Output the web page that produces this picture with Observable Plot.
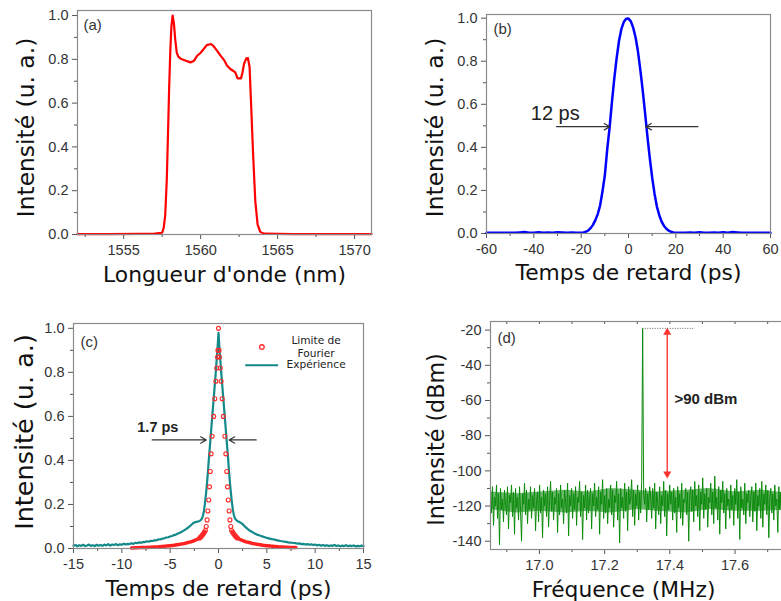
<!DOCTYPE html>
<html><head><meta charset="utf-8">
<script src="https://cdn.jsdelivr.net/npm/d3@7"></script>
<script src="https://cdn.jsdelivr.net/npm/@observablehq/plot@0.6"></script>
<style>
html,body{margin:0;padding:0;background:#fff;overflow:hidden;}
#root{position:relative;width:781px;height:601px;overflow:hidden;background:#fff;}
.panel{position:absolute;}
.panel svg{display:block;overflow:visible;max-width:none !important;}
</style></head><body><div id="root"></div>
<script>
// ---------- (a) spectrum ----------
const specWavelength = [1552.0,1554.0,1556.0,1557.0,1557.5,1557.6,1557.7,1557.8,1557.88,1557.95,1558.03,1558.1,1558.18,1558.27,1558.35,1558.45,1558.55,1558.7,1559.0,1559.33,1559.55,1559.76,1560.0,1560.2,1560.4,1560.67,1560.84,1561.06,1561.28,1561.54,1561.71,1561.93,1562.1,1562.25,1562.4,1562.62,1562.72,1562.82,1562.97,1563.07,1563.18,1563.27,1563.4,1563.55,1563.7,1563.87,1564.1,1566.0,1571.1];
const specIntensity = [0.002,0.002,0.003,0.004,0.008,0.03,0.09,0.25,0.46,0.66,0.84,0.95,1.0,0.96,0.89,0.83,0.812,0.803,0.795,0.786,0.792,0.815,0.83,0.847,0.865,0.87,0.86,0.84,0.818,0.795,0.772,0.756,0.748,0.74,0.713,0.713,0.74,0.78,0.805,0.806,0.765,0.61,0.38,0.153,0.046,0.012,0.004,0.002,0.002];
const aXMajor = [1555,1560,1565,1570], aXMinor = [1552.5,1557.5,1562.5,1567.5];
const unitYMajor = [0,0.2,0.4,0.6,0.8,1.0], unitYMinor = [0.1,0.3,0.5,0.7,0.9];

// ---------- (b) autocorrelation ----------
const acTime = [...d3.range(-60,-20,2), ...d3.range(-20,21,1), ...d3.range(22,61,2)];
const acIntensity = [
  0.003,0.004,0.003,0.004,0.003,0.004,0.003,0.005,0.007,0.004,0.003,0.006,0.004,0.005,0.003,0.006,0.005,0.004,0.005,0.004,
  0.004,0.005,0.008,0.014,0.025,0.04,0.062,0.09,0.13,0.195,0.27,0.39,0.49,0.61,0.72,0.815,0.895,0.95,0.982,0.997,0.998,
  0.985,0.955,0.91,0.845,0.76,0.665,0.56,0.45,0.35,0.26,0.185,0.125,0.085,0.055,0.035,0.022,0.013,0.008,0.005,0.004,
  0.004,0.003,0.005,0.004,0.006,0.004,0.003,0.005,0.003,0.006,0.004,0.007,0.005,0.003,0.004,0.003,0.004,0.003,0.004,0.003];
const bXMajor = [-60,-40,-20,0,20,40,60], bXMinor = [-50,-30,-10,10,30,50];

// ---------- (c) compressed pulse ----------
const expTime = [...d3.range(65).map(i => -15 + i*0.2), ...d3.range(41).map(i => -2 + i*0.1), ...d3.range(65).map(i => 2.2 + i*0.2)];
const expIntensity = [
  0.013,0.016,0.010,0.015,0.012,0.017,0.011,0.014,0.018,0.012,
  0.015,0.011,0.017,0.013,0.016,0.012,0.018,0.014,0.020,0.013,
  0.018,0.016,0.020,0.015,0.019,0.017,0.022,0.018,0.021,0.020,
  0.024,0.021,0.026,0.024,0.028,0.026,0.030,0.029,0.033,0.031,
  0.035,0.034,0.038,0.037,0.042,0.041,0.045,0.046,0.050,0.051,
  0.055,0.057,0.061,0.063,0.068,0.071,0.076,0.081,0.087,0.093,
  0.100,0.108,0.116,0.120,0.122,
  0.124,0.127,0.131,0.137,0.150,0.172,0.205,0.245,0.290,0.345,
  0.405,0.460,0.515,0.570,0.625,0.680,0.735,0.790,0.850,0.910,
  0.980,
  0.910,0.850,0.790,0.735,0.680,0.625,0.570,0.515,0.460,0.405,
  0.345,0.290,0.245,0.205,0.172,0.150,0.137,0.131,0.127,0.124,
  0.119,0.114,0.106,0.097,0.089,0.082,0.077,0.072,0.067,0.063,
  0.060,0.057,0.054,0.051,0.048,0.046,0.044,0.042,0.040,0.038,
  0.036,0.034,0.033,0.031,0.030,0.028,0.027,0.026,0.025,0.024,
  0.022,0.023,0.020,0.021,0.018,0.020,0.017,0.019,0.016,0.018,
  0.014,0.017,0.013,0.016,0.012,0.015,0.011,0.014,0.012,0.016,
  0.011,0.014,0.010,0.013,0.011,0.015,0.010,0.013,0.011,0.014,
  0.009,0.012,0.010,0.013,0.011];
const ftTime = [-9,-8.5,-8,-7.5,-7,-6.6,-6.2,-5.8,-5.4,-5,-4.6,-4.3,-4,-3.75,-3.5,-3.25,-3,-2.8,-2.6,-2.4,-2.25,-2.1,-1.95,-1.85,-1.75,-1.65,-1.55,-1.45,
  -1.36,-1.27,-1.18,-1.1,-1.01,-0.93,-0.85,-0.76,-0.66,-0.5,-0.38,-0.27,-0.18,-0.1,-0.06,0,
  0.06,0.1,0.18,0.27,0.38,0.5,0.66,0.76,0.85,0.93,1.01,1.1,1.18,1.27,1.36,
  1.45,1.55,1.65,1.75,1.85,1.95,2.1,2.25,2.4,2.6,2.8,3,3.25,3.5,3.75,4,4.3,4.6,5,5.4,5.8,6.2,6.6,7,7.5,8];
const ftIntensity = [0.002,0.003,0.004,0.005,0.006,0.007,0.008,0.0095,0.011,0.013,0.015,0.017,0.019,0.021,0.023,0.026,0.029,0.031,0.034,0.038,0.041,0.044,0.048,0.052,0.057,0.062,0.068,0.075,
  0.082,0.10,0.13,0.17,0.22,0.28,0.35,0.43,0.51,0.60,0.68,0.76,0.82,0.87,0.90,1.0,
  0.90,0.87,0.82,0.76,0.68,0.60,0.51,0.43,0.35,0.28,0.22,0.17,0.13,0.10,0.082,
  0.075,0.068,0.062,0.057,0.052,0.048,0.044,0.041,0.038,0.034,0.031,0.029,0.026,0.023,0.021,0.019,0.017,0.015,0.013,0.011,0.0095,0.008,0.007,0.006,0.005,0.004];
const cXMajor = [-15,-10,-5,0,5,10,15], cXMinor = [-12.5,-7.5,-2.5,2.5,7.5,12.5];

// ---------- (d) RF spectrum ----------
const rfStart = 16.85, rfStep = 0.00307;
const rfLevel = [
  -112,-124,-109,-131,-115,-120,-108,-127,-113,-142,-110,-122,-116,-129,-111,-119,-125,-109,-133,-114,
  -118,-108,-126,-112,-136,-110,-121,-115,-128,-109,-123,-140,-113,-119,-107,-125,-111,-130,-116,-122,
  -109,-127,-114,-121,-110,-134,-117,-112,-129,-108,-124,-115,-138,-111,-120,-113,-126,-109,-132,-117,
  -106,-123,-112,-128,-115,-119,-110,-135,-113,-125,-108,-121,-116,-130,-111,-118,-124,-107,-137,-114,
  -120,-110,-127,-113,-122,-109,-131,-115,-118,-106,-126,-112,-139,-114,-121,-108,-128,-111,-124,-116,
  -110,-133,-113,-120,-107,-126,-115,-122,-109,-136,-112,-119,-105,-127,-114,-124,-110,-130,-116,-121,
  -108,-125,-111,-132,-114,-118,-106,-128,-113,-141,-110,-121,-115,-127,-107,-123,-112,-134,-109,-119,
  -116,-105,-126,-111,-131,-113,-120,-108,-128,-112,-124,-106,-19,-114,-119,-110,-129,-113,-122,-109,
  -115,-127,-110,-121,-107,-133,-112,-118,-125,-109,-130,-114,-120,-106,-126,-111,-137,-113,-122,-108,
  -119,-112,-128,-110,-124,-115,-135,-109,-121,-113,-127,-107,-131,-116,-118,-110,-125,-112,-140,-114,
  -109,-123,-111,-129,-106,-120,-114,-126,-108,-134,-112,-119,-104,-127,-113,-122,-110,-132,-115,-118,
  -107,-125,-112,-130,-103,-121,-115,-128,-109,-136,-111,-118,-106,-124,-113,-133,-110,-120,-116,-127,
  -108,-122,-114,-131,-110,-119,-105,-127,-112,-139,-109,-121,-116,-125,-107,-130,-113,-118,-111,-126,
  -115,-109,-129,-112,-123,-107,-134,-114,-120,-110,-127,-106,-132,-113,-119,-108,-125,-111,-138,-115,
  -110,-124,-113,-128,-108,-120,-116,-135,-109,-122,-112,-130,-105,-126,-114,-119,-110,-133,-112,-121,
  -108,-127,-113,-123,-110,-131,-115,-119,-107,-126,-112,-142,-109,-121,-114,-128,-111,-118,-106,-125];
const rfFreq = rfLevel.map((_, i) => rfStart + i * rfStep);
// dense core of the noise floor (where the trace is solid green)
const rfCoreFreq = [16.85,16.93,17.0,17.08,17.15,17.22,17.3,17.36,17.45,17.52,17.6,17.68,17.78];
const rfCoreTop = [-112,-113,-112,-111,-112,-110,-111,-112,-111,-110,-112,-111,-113];
const rfCoreBottom = [-122,-124,-123,-124,-123,-124,-122,-123,-124,-122,-123,-123,-122];
const rfPeak = {f: 17.317, level: -19, floor: -104, refEnd: 17.475, markF: 17.392};
const dXMajor = [17.0,17.2,17.4,17.6], dXMinor = [16.9,17.1,17.3,17.5,17.7];
const dXTop = [16.9,17.0,17.1,17.2,17.3,17.4,17.5,17.6,17.7];
const dYMajor = [-20,-40,-60,-80,-100,-120,-140], dYMinor = [-30,-50,-70,-90,-110,-130];

// ---------- styling helpers ----------
const tickFont = "'Liberation Sans', Arial, sans-serif";
const labelFont = "'DejaVu Sans', Verdana, sans-serif";
const tickStroke = "#555", frameStroke = "#8a8a8a", tickText = "#333";
const baseStyle = {background: "transparent", fontFamily: tickFont, fontSize: "14.5px", color: "#333", overflow: "visible", maxWidth: "none"};

function axes(xMajor, xMinor, yMajor, yMinor, xFmt, yFmt) {
  return [
    Plot.axisX({ticks: xMajor, tickSize: 5, tickPadding: 5, tickFormat: xFmt, label: null, stroke: tickStroke, fill: tickText, fontSize: 14.5}),
    Plot.axisX({ticks: xMinor, tickSize: 3, tickFormat: () => "", label: null, stroke: tickStroke}),
    Plot.axisY({ticks: yMajor, tickSize: 5, tickPadding: 4, tickFormat: yFmt, label: null, stroke: tickStroke, fill: tickText, fontSize: 14.5}),
    Plot.axisY({ticks: yMinor, tickSize: 3, tickFormat: () => "", label: null, stroke: tickStroke})
  ];
}
function yLabel(text, dx, dy, size) {
  return Plot.text([text], {frameAnchor: "left", rotate: -90, dx, dy, textAnchor: "middle", lineAnchor: "bottom", fontSize: size, fontFamily: labelFont, fill: "#111"});
}
function xLabel(text, dy, opts = {}) {
  return Plot.text([text], {frameAnchor: "bottom", dy, textAnchor: "middle", lineAnchor: "bottom", fontSize: 21.8, fontFamily: labelFont, fill: "#111", ...opts});
}
function tag(text, dx, dy) {
  return Plot.text([text], {frameAnchor: "top-left", dx, dy, textAnchor: "start", lineAnchor: "middle", fontSize: 15, fill: "#333"});
}
const f1 = d => d.toFixed(1), f0 = d => String(d);

function place(svg, left, top, w, h) {
  const div = document.createElement("div");
  div.className = "panel";
  div.style.left = left + "px"; div.style.top = top + "px";
  div.style.width = w + "px"; div.style.height = h + "px";
  svg.style.maxWidth = "none";
  div.appendChild(svg);
  document.getElementById("root").appendChild(div);
}

// (a)
place(Plot.plot({
  width: 390, height: 300, marginLeft: 77, marginRight: 19, marginTop: 10, marginBottom: 66,
  x: {domain: [1552, 1571.1]}, y: {domain: [0, 1.023]}, style: baseStyle,
  marks: [
    ...axes(aXMajor, aXMinor, unitYMajor, unitYMinor, f0, f1),
    Plot.line(specIntensity, {x: specWavelength, y: specIntensity, stroke: "#ff0000", strokeWidth: 2.2}),
    Plot.frame({stroke: frameStroke, strokeWidth: 1.2}),
    tag("(a)", 6, 15),
    yLabel("Intensité (u. a.)", -44, 5, 23.4),
    xLabel("Longueur d'onde (nm)", 47)
  ]
}), 0, 0, 390, 300);

// (b)
const bNotes = [{x1: -30.4, x2: -7.9, y: 0.496}, {x1: 29.3, x2: 7.3, y: 0.496}];
place(Plot.plot({
  width: 391, height: 300, marginLeft: 96, marginRight: 11, marginTop: 14, marginBottom: 67,
  x: {domain: [-60, 60]}, y: {domain: [0, 1.017]}, style: baseStyle,
  marks: [
    ...axes(bXMajor, bXMinor, unitYMajor, unitYMinor, f0, f1),
    Plot.line(acIntensity, {x: acTime, y: acIntensity, stroke: "#0000ff", strokeWidth: 2.5}),
    Plot.arrow(bNotes, {x1: "x1", x2: "x2", y1: "y", y2: "y", stroke: "#333", strokeWidth: 1.2, headLength: 8}),
    Plot.text(["12 ps"], {x: () => -41.3, y: () => 0.558, textAnchor: "start", lineAnchor: "middle", fontSize: 20, fill: "#222"}),
    Plot.frame({stroke: frameStroke, strokeWidth: 1.2}),
    tag("(b)", 7, 15),
    yLabel("Intensité (u. a.)", -44, 3.5, 23.4),
    xLabel("Temps de retard (ps)", 46.3)
  ]
}), 390, 0, 391, 300);

// (c)
const cNotes = [{x1: -6.86, x2: -1.27, y: 0.493}, {x1: 3.9, x2: 1.1, y: 0.493}];
const ftSide = ftTime.map(t => t < 0 ? "L" : "R");
place(Plot.plot({
  width: 390, height: 301, marginLeft: 73, marginRight: 27, marginTop: 23, marginBottom: 53,
  x: {domain: [-15, 15]}, y: {domain: [0, 1.022]}, style: baseStyle,
  marks: [
    ...axes(cXMajor, cXMinor, unitYMajor, unitYMinor, f0, f1),
    Plot.line(expIntensity, {x: expTime, y: expIntensity, stroke: "#14898a", strokeWidth: 2.2}),
    Plot.line(ftIntensity, {x: ftTime, y: ftIntensity, z: ftSide, filter: ftTime.map(t => Math.abs(t) >= 1.44), stroke: "#ff2020", strokeWidth: 3.5}),
    Plot.dot(ftIntensity, {x: ftTime, y: ftIntensity, filter: ftTime.map(t => Math.abs(t) < 2), r: 2, stroke: "#ff2a2a", strokeWidth: 1.1, fill: "none"}),
    Plot.arrow(cNotes, {x1: "x1", x2: "x2", y1: "y", y2: "y", stroke: "#333", strokeWidth: 1.2, headLength: 8}),
    Plot.text(["1.7 ps"], {x: () => -8.4, y: () => 0.55, textAnchor: "start", lineAnchor: "middle", fontSize: 14.5, fontWeight: "bold", fill: "#222"}),
    // legend
    Plot.dot([{x: 4.49, y: 0.915}], {x: "x", y: "y", r: 2.3, stroke: "#ff2a2a", strokeWidth: 1.3, fill: "none"}),
    Plot.link([{x1: 2.76, x2: 6.17, y: 0.832}], {x1: "x1", x2: "x2", y1: "y", y2: "y", stroke: "#14898a", strokeWidth: 2}),
    Plot.text([{x: 10.1, y: 0.945, t: "Limite de"}, {x: 10.1, y: 0.885, t: "Fourier"}, {x: 10.1, y: 0.834, t: "Expérience"}],
      {x: "x", y: "y", text: "t", textAnchor: "middle", lineAnchor: "middle", fontSize: 10.6, fontFamily: labelFont, fill: "#222"}),
    Plot.frame({stroke: frameStroke, strokeWidth: 1.2}),
    tag("(c)", 7, 19),
    yLabel("Intensité (u. a.)", -41, -4, 25.5),
    xLabel("Temps de retard (ps)", 47)
  ]
}), 0, 300, 390, 301);

// (d)
place(Plot.plot({
  width: 410, height: 301, marginLeft: 100, marginRight: 10, marginTop: 21, marginBottom: 52,
  x: {domain: [16.85, 17.77]}, y: {domain: [-144.7, -15.1]}, style: baseStyle,
  marks: [
    ...axes(dXMajor, dXMinor, dYMajor, dYMinor, f1, f0),
    Plot.ruleX(dXTop, {x: d => d, insetBottom: 225, stroke: tickStroke}),
    Plot.areaY(rfCoreTop, {x: rfCoreFreq, y1: rfCoreBottom, y2: rfCoreTop, fill: "#0b8a0b", fillOpacity: 0.6, curve: "linear", clip: true}),
    Plot.line(rfLevel, {x: rfFreq, y: rfLevel, stroke: "#0b8a0b", strokeWidth: 1, clip: true}),
    Plot.ruleY([rfPeak], {y: "level", x1: "f", x2: "refEnd", stroke: "#666", strokeWidth: 1, strokeDasharray: "1,1.5"}),
    Plot.ruleX([rfPeak], {x: "markF", y1: d => d.level - 2, y2: d => d.floor + 2, stroke: "#ff4444", strokeWidth: 1.5}),
    Plot.dot([rfPeak], {x: "markF", y: "level", symbol: "triangle", r: 3, fill: "#ff3030", stroke: "none", dy: 4}),
    Plot.dot([rfPeak], {x: "markF", y: "floor", symbol: "triangle", rotate: 180, r: 3, fill: "#ff3030", stroke: "none", dy: -4}),
    Plot.text([">90 dBm"], {x: () => 17.414, y: () => -59, textAnchor: "start", lineAnchor: "middle", fontSize: 15, fontWeight: "bold", fill: "#222"}),
    Plot.frame({stroke: frameStroke, strokeWidth: 1.2}),
    tag("(d)", 7, 17),
    yLabel("Intensité (dBm)", -47, 4, 22.2),
    xLabel("Fréquence (MHz)", 47, {x: () => 17.258, frameAnchor: "bottom"})
  ]
}), 390, 300, 410, 301);
</script></body></html>
